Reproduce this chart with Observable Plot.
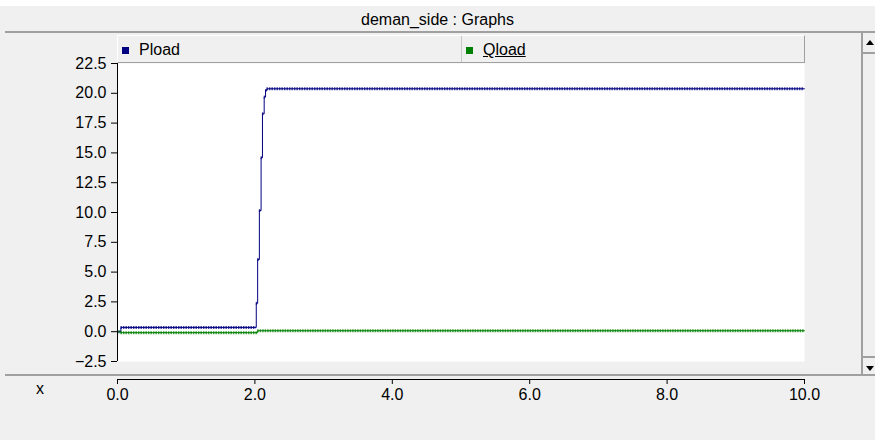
<!DOCTYPE html>
<html><head><meta charset="utf-8">
<script src="https://cdn.jsdelivr.net/npm/d3@7"></script>
<script src="https://cdn.jsdelivr.net/npm/@observablehq/plot@0.6"></script>
<style>
html,body{margin:0;padding:0;background:#f0f0f0;}
#wrap{position:relative;width:875px;height:440px;overflow:hidden;font-family:"Liberation Sans",Arial,sans-serif;background:#f0f0f0;color:#000;}
#chart{position:absolute;left:0;top:0;}
.abs{position:absolute;}
#topstrip{left:0;top:0;width:875px;height:6px;background:#fff;}
#title{left:0;top:7px;width:875px;height:25px;line-height:25px;text-align:center;font-size:16px;}
.hline{height:2px;background:#a0a0a0;}
#legend{left:117px;top:35px;width:686px;height:26px;border-top:1px solid #fff;border-left:1px solid #fff;border-right:1px solid #a0a0a0;border-bottom:1px solid #a0a0a0;background:#f0f0f0;}
.litem{position:absolute;top:0;height:26px;line-height:27px;font-size:16px;}
.sw{display:inline-block;width:7px;height:7px;margin-right:10px;vertical-align:1px;}
#divider{left:343px;top:0;width:1px;height:26px;background:#c8c8c8;}
#vline{left:861px;top:33px;width:2px;height:342px;background:#a0a0a0;}
.sbox{left:863px;width:12px;height:18px;border-bottom:2px solid #a0a0a0;}
.tri{position:absolute;left:3px;width:0;height:0;border-left:4px solid transparent;border-right:4px solid transparent;}
#xlab{left:36px;top:380px;font-size:16px;}
</style></head><body>
<div id="wrap">
  <div id="chart"></div>
  <div class="abs" id="topstrip"></div>
  <div class="abs" id="title"></div>
  <div class="abs hline" style="left:5px;top:31px;width:870px;"></div>
  <div class="abs" id="legend"><div class="abs" id="divider"></div></div>
  <div class="abs" id="vline"></div>
  <div class="abs sbox" style="top:34px;"><div class="tri" style="top:6px;border-bottom:5px solid #000;"></div></div>
  <div class="abs sbox" style="top:356px;border-bottom:none;border-top:2px solid #a0a0a0;"><div class="tri" style="top:8px;border-top:5px solid #000;"></div></div>
  <div class="abs hline" style="left:5px;top:374px;width:870px;"></div>
  <div class="abs" id="xlab"></div>
</div>
<script>
const chartTitle = "deman_side : Graphs";
const seriesNames = ["Pload", "Qload"];
const seriesColors = ["#000080", "#008000"];
const xLabel = "x";

// Pload (step samples)
const pTime   = [0, 0.05, 2.02, 2.04, 2.065, 2.09, 2.11, 2.135, 2.155, 2.175, 10];
const pValues = [0, 0.36, 2.38, 6.05, 10.16, 14.59, 18.28, 19.68, 20.24, 20.38, 20.38];
// Qload (step samples)
const qTime   = [0, 0.05, 2.04, 10];
const qValues = [0, -0.08, 0.08, 0.08];

const xTicks = [0, 2, 4, 6, 8, 10];
const yTicks = [-2.5, 0, 2.5, 5, 7.5, 10, 12.5, 15, 17.5, 20, 22.5];

document.getElementById("title").textContent = chartTitle;
document.getElementById("xlab").textContent = xLabel;

// legend
const legend = document.getElementById("legend");
const legendLeft = [4, 348];
seriesNames.forEach((name, i) => {
  const d = document.createElement("div");
  d.className = "litem";
  d.style.left = legendLeft[i] + "px";
  const sw = document.createElement("span");
  sw.className = "sw";
  sw.style.background = seriesColors[i];
  const tx = document.createElement("span");
  tx.textContent = name;
  if (i === 1) tx.style.textDecoration = "underline";
  d.appendChild(sw); d.appendChild(tx);
  legend.appendChild(d);
});

const rows = [];
pTime.forEach((t, i) => rows.push({series: seriesNames[0], t, v: pValues[i]}));
qTime.forEach((t, i) => rows.push({series: seriesNames[1], t, v: qValues[i]}));
const segs = [];
for (let i = 0; i < rows.length - 1; i++) {
  if (rows[i].series === rows[i + 1].series)
    segs.push({series: rows[i].series, t0: rows[i].t, t1: rows[i + 1].t, v: rows[i].v});
}

const fmt = d3.format(".1f");
const chart = Plot.plot({
  width: 875, height: 440,
  marginLeft: 117, marginRight: 71, marginTop: 63, marginBottom: 79,
  style: {background: "transparent", fontFamily: "Liberation Sans, Arial, sans-serif", fontSize: "16px", color: "#000"},
  x: {domain: [0, 10]},
  y: {domain: [-2.5, 22.5]},
  color: {domain: seriesNames, range: seriesColors},
  marks: [
    Plot.frame({fill: "white", stroke: "none"}),
    Plot.line(rows, {x: "t", y: "v", z: "series", stroke: "series", curve: "step-after", strokeWidth: 1}),
    Plot.ruleY(segs, {y: "v", x1: "t0", x2: "t1", stroke: "series", strokeWidth: 3, strokeDasharray: "1.5,1", strokeOpacity: 0.75}),
    Plot.ruleX([0], {stroke: "black"}),
    Plot.axisY({ticks: yTicks, tickFormat: fmt, tickSize: 6, tickPadding: 5, label: null, fontSize: 16}),
    Plot.ruleY([-2.5], {dy: 18, stroke: "black"}),
    Plot.axisX({ticks: xTicks, tickFormat: fmt, tickSize: 5, tickPadding: 4, dy: 18, label: null, fontSize: 16})
  ]
});
document.getElementById("chart").appendChild(chart);
</script>
</body></html>
